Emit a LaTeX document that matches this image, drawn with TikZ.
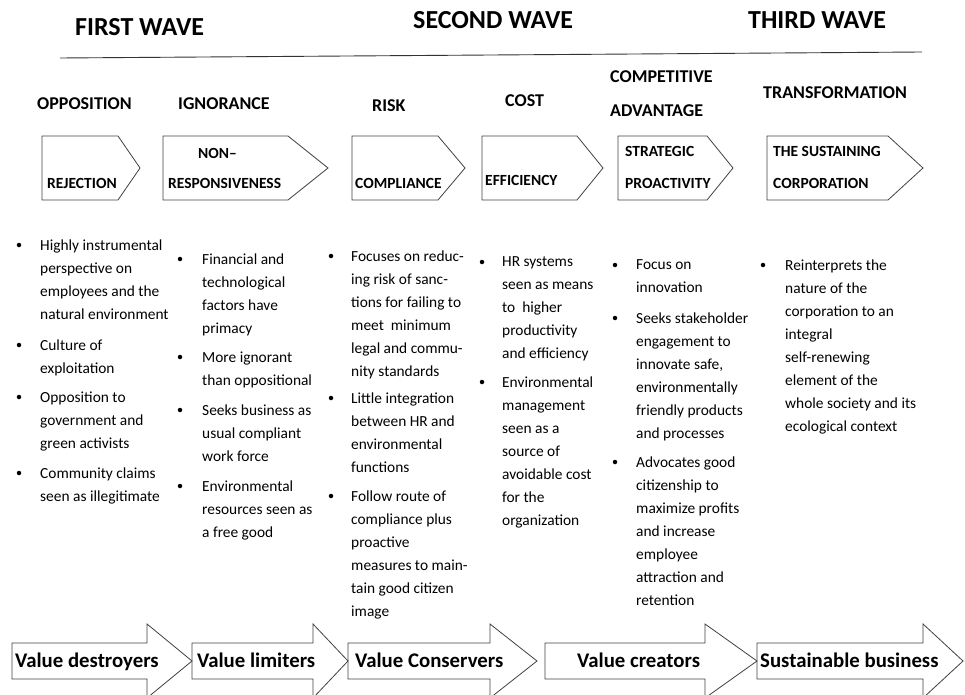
\documentclass[tikz,border=0pt]{standalone}
\usepackage{fontspec}
\setmainfont{Carlito}
\begin{document}
\begin{tikzpicture}[x=1pt,y=-1pt,
  wave/.style={anchor=base west, inner sep=0pt, font=\bfseries\fontsize{26}{30}\selectfont},
  stage/.style={anchor=base west, inner sep=0pt, font=\bfseries\fontsize{18}{22}\selectfont},
  boxlabel/.style={anchor=base west, inner sep=0pt, font=\bfseries\fontsize{15.5}{18}\selectfont},
  outline/.style={draw=black!75, line width=0.8pt},
  dot/.style={circle, fill=black, draw=none, inner sep=0pt, minimum size=4.5pt},
  itemtext/.style={anchor=north west, inner sep=0pt, align=left, yshift=9.1pt,
    font=\fontsize{15.4}{23}\selectfont, execute at begin node=\strut},
  valuetxt/.style={anchor=base west, inner sep=0pt, font=\bfseries\fontsize{20.8}{24}\selectfont}]
\useasboundingbox (0,0) rectangle (965,695);
% waves
\node [wave] (first) at (75,36) {FIRST WAVE};
\node [wave] (second) at (413,29) {SECOND WAVE};
\node [wave] (third) at (748,29) {THIRD WAVE};
\coordinate (rulel) at (60,58);
\coordinate (ruler) at (922,52);
\draw [line width=0.9pt, black!80] (rulel) -- (ruler);
% stages
\node [stage] (opposition) at (37,110) {OPPOSITION};
\node [stage] (ignorance) at (178,110) {IGNORANCE};
\node [stage] (risk) at (372,112) {RISK};
\node [stage] (cost) at (505,107) {COST};
\node [stage] (competitive) at (610,83) {COMPETITIVE};
\node [stage] (advantage) at (610,117) {ADVANTAGE};
\node [stage] (transformation) at (763,99) {TRANSFORMATION};
% pentagon boxes
\draw [outline] (42,136) -- (118,136) -- (140,168) -- (118,200) -- (42,200) -- cycle;
\draw [outline] (163,136) -- (288,136) -- (328,168) -- (288,200) -- (163,200) -- cycle;
\draw [outline] (352,136) -- (438,136) -- (465,168) -- (438,200) -- (352,200) -- cycle;
\draw [outline] (482,136) -- (577,136) -- (603,168) -- (577,200) -- (482,200) -- cycle;
\draw [outline] (618,136) -- (707,136) -- (733,168) -- (707,200) -- (618,200) -- cycle;
\draw [outline] (767,136) -- (888,136) -- (923,168) -- (888,200) -- (767,200) -- cycle;
\node [boxlabel] (rejection) at (47,188) {REJECTION};
\node [boxlabel] (non) at (198,158) {NON--};
\node [boxlabel] (responsiveness) at (168,188) {RESPONSIVENESS};
\node [boxlabel] (compliance) at (355,188) {COMPLIANCE};
\node [boxlabel] (efficiency) at (485,185) {EFFICIENCY};
\node [boxlabel] (strategic) at (625,157) {STRATEGIC};
\node [boxlabel] (proactivity) at (625,188) {PROACTIVITY};
\node [boxlabel] (sustaining) at (773,157) {THE SUSTAINING};
\node [boxlabel] (corporation) at (773,188) {CORPORATION};
% first column
\node [dot] (d11) at (19,245) {};
\node [itemtext] (t11) at (40,249) {Highly instrumental\\perspective on\\employees and the\\natural environment};
\node [dot] (d12) at (19,345) {};
\node [itemtext] (t12) at (40,349) {Culture of\\exploitation};
\node [dot] (d13) at (19,397) {};
\node [itemtext] (t13) at (40,401) {Opposition to\\government and\\green activists};
\node [dot] (d14) at (19,473) {};
\node [itemtext] (t14) at (40,477) {Community claims\\seen as illegitimate};
% second column
\node [dot] (d21) at (180,259) {};
\node [itemtext] (t21) at (202,263) {Financial and\\technological\\factors have\\primacy};
\node [dot] (d22) at (180,357) {};
\node [itemtext] (t22) at (202,361) {More ignorant\\than oppositional};
\node [dot] (d23) at (180,410) {};
\node [itemtext] (t23) at (202,414) {Seeks business as\\usual compliant\\work force};
\node [dot] (d24) at (180,486) {};
\node [itemtext] (t24) at (202,490) {Environmental\\resources seen as\\a free good};
% third column
\node [dot] (d31) at (331,256) {};
\node [itemtext] (t31) at (351,260) {Focuses on reduc-\\ing risk of sanc-\\tions for failing to\\meet\ \ minimum\\legal and commu-\\nity standards};
\node [dot] (d32) at (331,398) {};
\node [itemtext] (t32) at (351,402) {Little integration\\between HR and\\environmental\\functions};
\node [dot] (d33) at (331,496) {};
\node [itemtext] (t33) at (351,500) {Follow route of\\compliance plus\\proactive\\measures to main-\\tain good citizen\\image};
% fourth column
\node [dot] (d41) at (482,262) {};
\node [itemtext] (t41) at (502,266) {HR systems\\seen as means\\to\ \ higher\\productivity\\and efficiency};
\node [dot] (d42) at (482,382) {};
\node [itemtext] (t42) at (502,386) {Environmental\\management\\seen as a\\source of\\avoidable cost\\for the\\organization};
% fifth column
\node [dot] (d51) at (615,265) {};
\node [itemtext] (t51) at (636,269) {Focus on\\innovation};
\node [dot] (d52) at (615,318) {};
\node [itemtext] (t52) at (636,322) {Seeks stakeholder\\engagement to\\innovate safe,\\environmentally\\friendly products\\and processes};
\node [dot] (d53) at (615,462) {};
\node [itemtext] (t53) at (636,466) {Advocates good\\citizenship to\\maximize profits\\and increase\\employee\\attraction and\\retention};
% sixth column
\node [dot] (d61) at (763,265) {};
\node [itemtext] (t61) at (785,269) {Reinterprets the\\nature of the\\corporation to an\\integral\\self-renewing\\element of the\\whole society and its\\ecological context};
% block arrows
\draw [outline] (12,643) -- (147,643) -- (147,624) -- (192,661) -- (147,698) -- (147,679) -- (12,679) -- cycle;
\draw [outline] (192,643) -- (313,643) -- (313,624) -- (348,661) -- (313,698) -- (313,679) -- (192,679) -- cycle;
\draw [outline] (348,643) -- (490,643) -- (490,624) -- (537,661) -- (490,698) -- (490,679) -- (348,679) -- cycle;
\draw [outline] (545,643) -- (705,643) -- (705,624) -- (757,661) -- (705,698) -- (705,679) -- (545,679) -- cycle;
\draw [outline] (757,643) -- (923,643) -- (923,624) -- (963,661) -- (923,698) -- (923,679) -- (757,679) -- cycle;
\node [valuetxt] (destroyers) at (15,667) {Value destroyers};
\node [valuetxt] (limiters) at (197,667) {Value limiters};
\node [valuetxt] (conservers) at (355,667) {Value Conservers};
\node [valuetxt] (creators) at (577,667) {Value creators};
\node [valuetxt] (sustainable) at (760,667) {Sustainable business};
\end{tikzpicture}
\end{document}
